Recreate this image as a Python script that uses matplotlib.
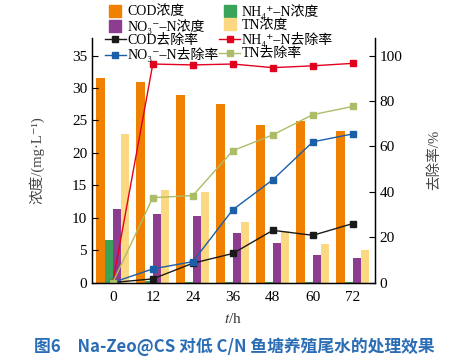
import matplotlib
matplotlib.use("Agg")
import matplotlib.pyplot as plt
from matplotlib.lines import Line2D
import numpy as np

plt.rcParams['font.family'] = ['Liberation Serif', 'Noto Sans CJK SC', 'DejaVu Sans']
plt.rcParams['mathtext.fontset'] = 'stix'

times = ['0', '12', '24', '36', '48', '60', '72']
cod_conc = [31.5, 30.9, 28.9, 27.5, 24.3, 24.9, 23.4]
nh4_conc = [6.5, 0.3, 0.15, 0.15, 0.1, 0.1, 0.1]
no3_conc = [11.3, 10.6, 10.3, 7.6, 6.1, 4.2, 3.8]
tn_conc = [22.9, 14.2, 13.9, 9.4, 8.0, 5.9, 5.0]

cod_rem = [0, 1.6, 8.5, 12.8, 23.0, 20.8, 26.0]
nh4_rem = [0, 96.3, 95.9, 96.3, 94.7, 95.5, 96.6]
no3_rem = [0, 6.0, 9.2, 32.1, 45.3, 62.0, 65.5]
tn_rem = [0, 37.4, 38.3, 58.1, 65.1, 74.0, 77.6]

c_cod = '#f08000'
c_nh4 = '#3aa35a'
c_no3 = '#8c3d8f'
c_tn = '#fdd882'
l_cod = '#1a1a1a'
l_nh4 = '#e2001f'
l_no3 = '#1a5fa8'
l_tn = '#abbd68'

fig = plt.figure(figsize=(4.6, 3.62), dpi=100)
ax = fig.add_axes([0.2, 0.2196, 0.615, 0.675])
ax2 = ax.twinx()

x = np.arange(len(times))
w = 0.205
ax.bar(x - 1.5 * w, cod_conc, w, color=c_cod)
ax.bar(x - 0.5 * w, nh4_conc, w, color=c_nh4)
ax.bar(x + 0.5 * w, no3_conc, w, color=c_no3)
ax.bar(x + 1.5 * w, tn_conc, w, color=c_tn)

ms = 5
lw = 1.0
ax2.plot(x, cod_rem, '-s', color=l_cod, ms=ms, lw=lw)
ax2.plot(x, nh4_rem, '-s', color=l_nh4, ms=ms, lw=lw)
ax2.plot(x, no3_rem, '-s', color=l_no3, ms=ms, lw=lw)
ax2.plot(x, tn_rem, '-s', color=l_tn, ms=ms, lw=lw)

ax.set_xlim(-0.52, 6.55)
ax.set_ylim(0, 37.7)
ax2.set_ylim(0, 107.7)
ax.set_xticks(x)
ax.set_xticklabels(times)
ax.set_yticks([0, 5, 10, 15, 20, 25, 30, 35])
ax2.set_yticks([0, 20, 40, 60, 80, 100])

for a in (ax, ax2):
    a.spines['top'].set_visible(False)
    a.tick_params(direction='in', labelsize=11, length=4, width=0.8)
    for s in a.spines.values():
        s.set_linewidth(0.9)
ax.tick_params(axis='x', length=0, pad=6)

ax.set_xlabel('$t$/h', fontsize=11, color='#333333', labelpad=6)
ax.set_ylabel('浓度/(mg·L⁻¹)', fontsize=10.5, color='#444444', labelpad=20)
ax2.set_ylabel('去除率/%', fontsize=10.5, color='#444444', labelpad=18)

def sq(c):
    return Line2D([], [], marker='s', ls='none', color=c, ms=8)

def ln(c):
    return Line2D([], [], marker='s', ls='-', color=c, ms=5, lw=1)

handles = [sq(c_cod), sq(c_no3), ln(l_cod), ln(l_no3),
           sq(c_nh4), sq(c_tn), ln(l_nh4), ln(l_tn)]
labels = ['COD浓度', 'NO₃⁻–N浓度', 'COD去除率', 'NO₃⁻–N去除率',
          'NH₄⁺–N浓度', 'TN浓度', 'NH₄⁺–N去除率', 'TN去除率']
fig.legend(handles, labels, loc='upper left', bbox_to_anchor=(0.21, 1.013),
           ncol=2, frameon=False, fontsize=10, handlelength=1.5,
           handletextpad=0.15, labelspacing=0.02, columnspacing=0.0,
           borderpad=0.1)

fig.text(0.51, 0.041, '图6　Na-Zeo@CS 对低 C/N 鱼塘养殖尾水的处理效果',
         ha='center', va='center', fontsize=12.1, color='#2a6db5',
         fontweight='bold', family=['Noto Sans CJK SC', 'DejaVu Sans'])

fig.savefig('out.png', dpi=100)
